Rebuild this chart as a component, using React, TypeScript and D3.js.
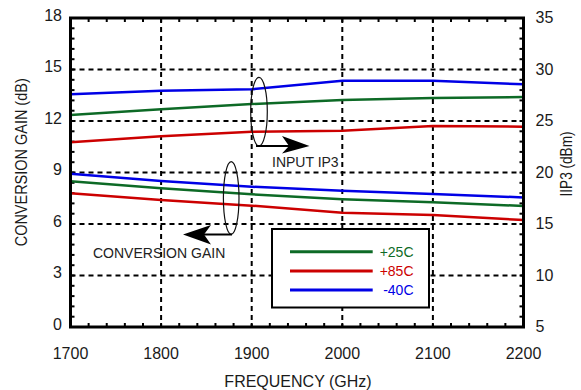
import React from "react";
import * as d3 from "d3";

const freqs = [1700, 1800, 1900, 2000, 2100, 2200];
const xTicks = [1700, 1800, 1900, 2000, 2100, 2200];
const leftTicks = [0, 3, 6, 9, 12, 15, 18];
const rightTicks = [5, 10, 15, 20, 25, 30, 35];

const seriesNames = ["+25C", "+85C", "-40C"];
const seriesColors = ["#0d6a26", "#cc0000", "#0000e6"];

// IIP3 (dBm), right axis
const iip3_25 = [25.58, 26.13, 26.65, 27.04, 27.23, 27.33];
const iip3_85 = [22.93, 23.51, 23.96, 24.06, 24.51, 24.45];
const iip3_m40 = [27.6, 27.94, 28.08, 28.9, 28.9, 28.56];

// Conversion gain (dB), left axis
const cg_25 = [8.49, 8.08, 7.73, 7.44, 7.26, 7.05];
const cg_85 = [7.79, 7.4, 7.07, 6.66, 6.52, 6.23];
const cg_m40 = [8.93, 8.5, 8.17, 7.94, 7.75, 7.55];

const W = 581;
const H = 390;
const L = 70.5, R = 523.5, T = 18, B = 327;
const FONT = "'Liberation Sans', Arial, Helvetica, sans-serif";

export default function App() {
  const x = d3.scaleLinear().domain([1700, 2200]).range([L, R]);
  const yL = d3.scaleLinear().domain([0, 18]).range([B, T]);
  const yR = d3.scaleLinear().domain([5, 35]).range([B, T]);

  const lineL = d3.line<number>().x((_, i) => x(freqs[i])).y((v) => yL(v));
  const lineR = d3.line<number>().x((_, i) => x(freqs[i])).y((v) => yR(v));

  const iip3 = [iip3_25, iip3_85, iip3_m40];
  const cg = [cg_25, cg_85, cg_m40];

  const minorX = d3.range(1700, 2200.01, 20);
  const minorL = d3.range(0, 18.01, 0.6);
  const minorR = d3.range(5, 35.01, 1);

  const tickLen = 4;

  return (
    <svg width={W} height={H} style={{ position: "absolute", left: 0, top: 0, background: "#fff" }}>
      <rect x={0} y={0} width={W} height={H} fill="#fff" />
      {/* grid */}
      <g stroke="#000" strokeWidth={2} strokeDasharray="5,4">
        {xTicks.slice(1, -1).map((t) => (
          <line key={"gx" + t} x1={x(t)} x2={x(t)} y1={T} y2={B} />
        ))}
        {leftTicks.slice(1, -1).map((t) => (
          <line key={"gy" + t} x1={L} x2={R} y1={yL(t)} y2={yL(t)} />
        ))}
      </g>
      {/* minor ticks */}
      <g stroke="#000" strokeWidth={2}>
        {minorX.map((t) => (
          <g key={"mx" + t}>
            <line x1={x(t)} x2={x(t)} y1={T} y2={T + tickLen} />
            <line x1={x(t)} x2={x(t)} y1={B} y2={B - tickLen} />
          </g>
        ))}
        {minorL.map((t) => (
          <line key={"ml" + t} x1={L} x2={L + tickLen} y1={yL(t)} y2={yL(t)} />
        ))}
        {minorR.map((t) => (
          <line key={"mr" + t} x1={R} x2={R - tickLen} y1={yR(t)} y2={yR(t)} />
        ))}
      </g>
      {/* data */}
      <g fill="none" strokeWidth={2.5} strokeLinejoin="round">
        {iip3.map((s, i) => (
          <path key={"i" + i} d={lineR(s) || ""} stroke={seriesColors[i]} />
        ))}
        {cg.map((s, i) => (
          <path key={"c" + i} d={lineL(s) || ""} stroke={seriesColors[i]} />
        ))}
      </g>
      {/* border */}
      <rect x={L} y={T} width={R - L} height={B - T} fill="none" stroke="#000" strokeWidth={3} />

      {/* annotations */}
      <g stroke="#111" fill="none" strokeWidth={1.2}>
        <ellipse cx={259} cy={111.7} rx={8.3} ry={34.3} />
        <ellipse cx={231.2} cy={198} rx={7.8} ry={36.3} />
      </g>
      <g stroke="#000" strokeWidth={2}>
        <line x1={256} x2={290} y1={146} y2={146} />
        <line x1={232} x2={203} y1={234.5} y2={234.5} />
      </g>
      <path d="M309.5,146 L282,136 L289,146 L282,153.5 Z" fill="#000" />
      <path d="M183,234.5 L211,225 L204,234.5 L211,244.5 Z" fill="#000" />
      <text x={272} y={166.7} fontFamily={FONT} fontSize={14} fill="#222">INPUT IP3</text>
      <text x={93} y={257.7} fontFamily={FONT} fontSize={14} fill="#222">CONVERSION GAIN</text>

      {/* legend */}
      <rect x={272} y={229} width={157} height={78.5} fill="#fff" stroke="#000" strokeWidth={2} />
      {seriesNames.map((n, i) => {
        const yy = 251.7 + i * 19.2;
        return (
          <g key={n}>
            <line x1={290} x2={372.7} y1={yy} y2={yy} stroke={seriesColors[i]} strokeWidth={3} />
            <text x={413.5} y={yy + 5} textAnchor="end" fontFamily={FONT} fontSize={14} fill={seriesColors[i]}>
              {n}
            </text>
          </g>
        );
      })}

      {/* tick labels */}
      <g fontFamily={FONT} fontSize={16} fill="#1a1a1a">
        {xTicks.map((t) => (
          <text key={"xt" + t} x={x(t)} y={359} textAnchor="middle">{t}</text>
        ))}
        {leftTicks.map((t) => (
          <text key={"lt" + t} x={62} y={yL(t) + 2.7} textAnchor="end">{t}</text>
        ))}
        {rightTicks.map((t) => (
          <text key={"rt" + t} x={535.5} y={yR(t) + 5} textAnchor="start">{t}</text>
        ))}
      </g>
      {/* axis titles */}
      <g fontFamily={FONT} fontSize={16} fill="#1a1a1a">
        <text x={298} y={386.5} textAnchor="middle">FREQUENCY (GHz)</text>
        <text
          transform="translate(27,162.3) rotate(-90)"
          textAnchor="middle"
          textLength={168}
          lengthAdjust="spacingAndGlyphs"
        >
          CONVERSION GAIN (dB)
        </text>
        <text
          transform="translate(572,164) rotate(-90)"
          textAnchor="middle"
          textLength={65}
          lengthAdjust="spacingAndGlyphs"
        >
          IIP3 (dBm)
        </text>
      </g>
    </svg>
  );
}
